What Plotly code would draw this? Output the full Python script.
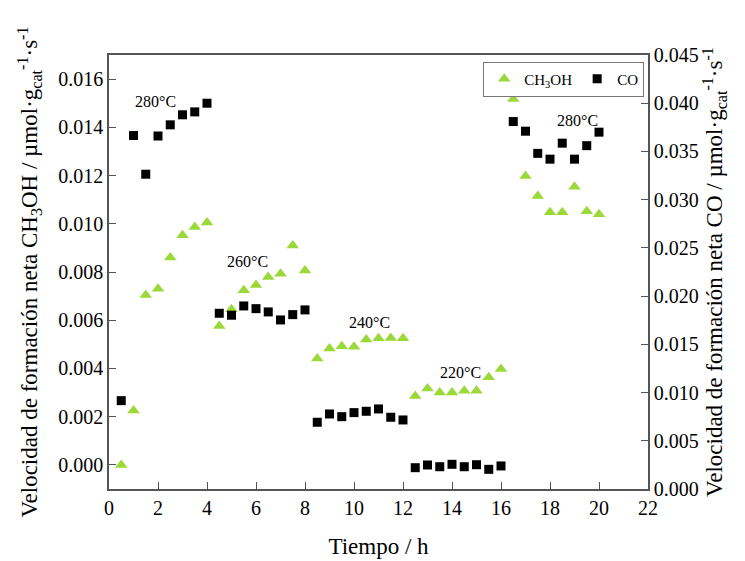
import plotly.graph_objects as go

tiempo = [0.5, 1, 1.5, 2, 2.5, 3, 3.5, 4, 4.5, 5, 5.5, 6, 6.5, 7, 7.5, 8,
          8.5, 9, 9.5, 10, 10.5, 11, 11.5, 12, 12.5, 13, 13.5, 14, 14.5, 15, 15.5, 16,
          16.5, 17, 17.5, 18, 18.5, 19, 19.5, 20]

ch3oh = [0.0000, 0.00226, 0.00705, 0.00731, 0.0086, 0.00952, 0.00987, 0.01005,
         0.00576, 0.00645, 0.00724, 0.00746, 0.00779, 0.00793, 0.0091, 0.00806,
         0.00441, 0.00483, 0.00492, 0.0049, 0.0052, 0.00525, 0.00526, 0.00525,
         0.00286, 0.00317, 0.0030, 0.0030, 0.00308, 0.00308, 0.00363, 0.00398,
         0.01517, 0.01198, 0.01115, 0.01048, 0.01048, 0.01154, 0.01052, 0.0104]

co = [0.00916, 0.03665, 0.03264, 0.0366, 0.03776, 0.0388, 0.0391, 0.0400,
      0.01822, 0.01802, 0.01898, 0.0187, 0.01836, 0.01753, 0.01808, 0.01857,
      0.00692, 0.00778, 0.0075, 0.00792, 0.00806, 0.0083, 0.00744, 0.00716,
      0.00221, 0.00249, 0.00231, 0.00256, 0.00231, 0.00252, 0.00204, 0.00239,
      0.0381, 0.0371, 0.0348, 0.0342, 0.03586, 0.0342, 0.0356, 0.0370]

temp_labels = ["280°C", "260°C", "240°C", "220°C", "280°C"]
temp_x = [1.88, 5.67, 10.65, 14.33, 19.14]
temp_y = [0.01508, 0.00844, 0.0059, 0.00384, 0.0143]

FONT = "Liberation Serif"
AX = "#555555"
TICKF = dict(family=FONT, size=20, color="black")
TITLEF = dict(family=FONT, size=23, color="black")

fig = go.Figure()
fig.add_trace(go.Scatter(
    x=tiempo, y=ch3oh, mode="markers", name="CH<sub>3</sub>OH",
    marker=dict(symbol="triangle-up", size=11, color="#9BD83A", line=dict(width=0)),
    yaxis="y"))
fig.add_trace(go.Scatter(
    x=tiempo, y=co, mode="markers", name="CO",
    marker=dict(symbol="square", size=9, color="black", line=dict(width=0)),
    yaxis="y2"))

for lab, tx, ty in zip(temp_labels, temp_x, temp_y):
    fig.add_annotation(x=tx, y=ty, xref="x", yref="y", text=lab, showarrow=False,
                       font=dict(family=FONT, size=16, color="black"))

fig.update_layout(
    width=745, height=561,
    margin=dict(l=109, r=97, t=55, b=72, autoexpand=False),
    paper_bgcolor="white", plot_bgcolor="white",
    font=dict(family=FONT, size=20, color="black"),
    showlegend=True,
    legend=dict(x=0.993, y=0.985, xanchor="right", yanchor="top", orientation="h",
                bordercolor="#777777", borderwidth=1, bgcolor="white",
                font=dict(family=FONT, size=15, color="black"), itemwidth=30,
                tracegroupgap=0),
    xaxis=dict(range=[0, 22], tick0=0, dtick=2, ticks="inside", ticklen=7,
               tickcolor=AX, showline=True, linecolor=AX, linewidth=1.5, mirror=True,
               showgrid=False, zeroline=False, tickfont=TICKF, automargin=False,
               title=dict(text="Tiempo / h", font=TITLEF, standoff=20)),
    yaxis=dict(range=[-0.001, 0.017], tick0=0, dtick=0.002, tickformat=".3f",
               ticks="inside", ticklen=7, tickcolor=AX, showline=True, linecolor=AX,
               linewidth=1.5, showgrid=False, zeroline=False, tickfont=TICKF,
               automargin=False,
               title=dict(text="Velocidad de formación neta CH<sub>3</sub>OH / µmol·g<sub>cat</sub><sup>-1</sup>·s<sup>-1</sup>",
                          font=TITLEF, standoff=14)),
    yaxis2=dict(range=[0, 0.045], tick0=0, dtick=0.005, tickformat=".3f",
                overlaying="y", side="right", anchor="x",
                ticks="inside", ticklen=7, tickcolor=AX, showline=True, linecolor=AX,
                linewidth=1.5, showgrid=False, zeroline=False, tickfont=TICKF,
                automargin=False,
                title=dict(text="Velocidad de formación neta CO / µmol·g<sub>cat</sub><sup>-1</sup>·s<sup>-1</sup>",
                           font=TITLEF, standoff=8)),
)

fig.write_html("out.html")
